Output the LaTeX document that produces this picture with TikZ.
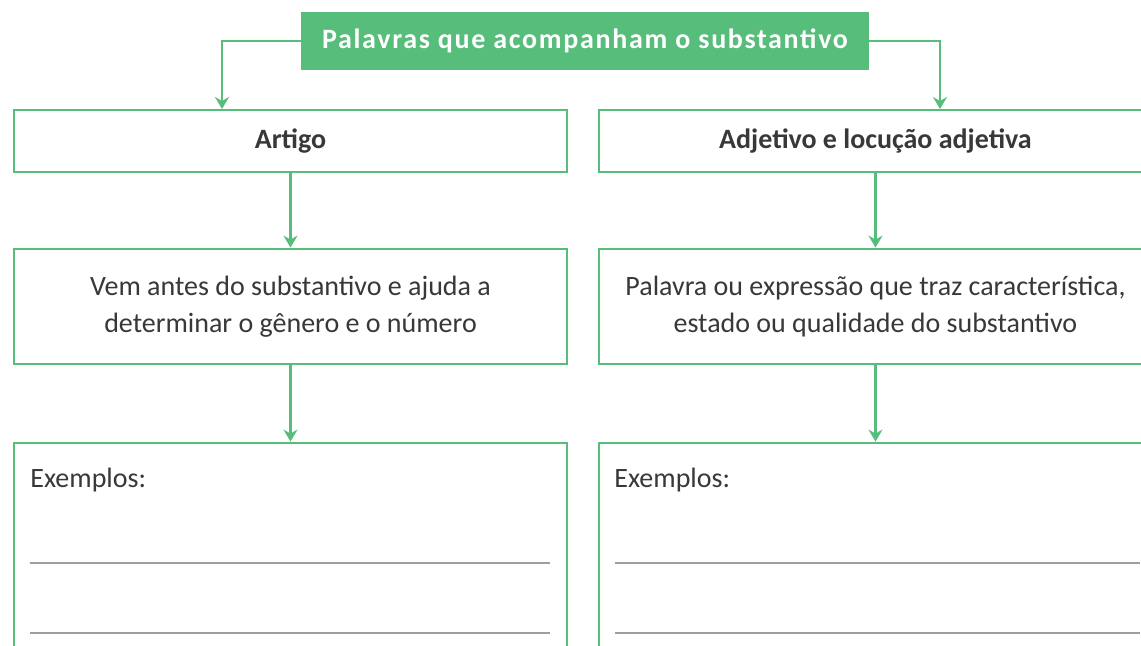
\documentclass[tikz,border=0pt]{standalone}
\usepackage{fontspec}
\setmainfont{Carlito}
\usepackage{xcolor}
\usetikzlibrary{arrows.meta}
\definecolor{verde}{HTML}{57BD7B}
\definecolor{texto}{HTML}{383838}

\begin{document}
\begin{tikzpicture}[x=0.5pt, y=-0.5pt,
    caixa/.style={draw=verde, line width=1.4pt, fill=white, text=texto,
        minimum width=276.5pt, inner sep=0pt, align=center, font=\fontsize{14}{18.5}\selectfont},
    seta/.style={draw=verde, line width=1.2pt, -{Stealth[length=6pt, width=7pt, inset=2pt]}},
    linha/.style={draw=black!38, line width=1.1pt}]
    \useasboundingbox (0,0) rectangle (1141,646);
    \clip (0,0) rectangle (1141,646);

    % Titulo
    \node[fill=verde, minimum width=284pt, minimum height=29pt, inner sep=0pt,
        text=white, font=\fontsize{14}{15}\selectfont\bfseries\addfontfeature{LetterSpace=6}]
        (titulo) at (585,41) {Palavras que acompanham o substantivo};

    % Primeira linha de caixas
    \node[caixa, minimum height=31pt, font=\fontsize{14}{18.5}\selectfont\bfseries] (artigo) at (290.5,141) {Artigo};
    \node[caixa, minimum height=31pt, font=\fontsize{14}{18.5}\selectfont\bfseries] (adjetivo) at (875.5,141) {Adjetivo e locução adjetiva};
    \coordinate (pontaE) at (222,109);
    \coordinate (pontaD) at (940,109);
    \draw[seta] (titulo.west) -| (pontaE);
    \draw[seta] (titulo.east) -| (pontaD);

    % Definicoes
    \node[caixa, minimum height=57.5pt] (defE) at (290.5,306.5)
        {Vem antes do substantivo e ajuda a\\determinar o gênero e o número};
    \node[caixa, minimum height=57.5pt] (defD) at (875.5,306.5)
        {Palavra ou expressão que traz característica,\\estado ou qualidade do substantivo};
    \draw[seta] (artigo) -- (defE);
    \draw[seta] (adjetivo) -- (defD);

    % Exemplos
    \node[caixa, minimum height=130pt] (exE) at (290.5,573) {};
    \node[caixa, minimum height=130pt] (exD) at (875.5,573) {};
    \draw[seta] (defE) -- (exE);
    \draw[seta] (defD) -- (exD);
    \node[anchor=west, text=texto, font=\fontsize{14}{15}\selectfont, inner sep=0pt] (exLE) at (30,480) {Exemplos:};
    \node[anchor=west, text=texto, font=\fontsize{14}{15}\selectfont, inner sep=0pt] (exLD) at (614,480) {Exemplos:};
    \draw[linha] (30,563) -- (550,563);
    \draw[linha] (30,633) -- (550,633);
    \draw[linha] (615,563) -- (1140,563);
    \draw[linha] (615,633) -- (1140,633);
\end{tikzpicture}
\end{document}
